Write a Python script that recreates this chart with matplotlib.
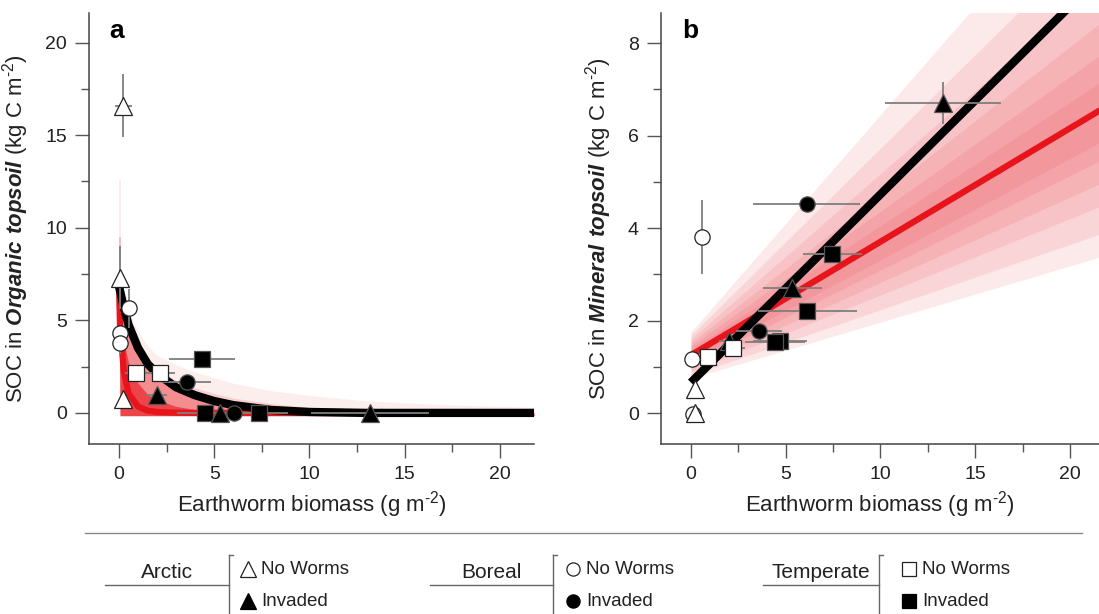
import matplotlib
matplotlib.use("Agg")
import matplotlib.pyplot as plt
from matplotlib.lines import Line2D
from matplotlib.ticker import MultipleLocator

plt.rcParams["font.family"] = ["Liberation Sans", "DejaVu Sans"]
plt.rcParams["mathtext.fontset"] = "custom"
plt.rcParams["mathtext.rm"] = "Liberation Sans"
plt.rcParams["mathtext.bfit"] = "Liberation Sans:italic:bold"

RED = "#e8141b"
ERR = "#7f7f7f"
AXC = "#444444"

# marker style per region / invasion status
kinds = {
    "arc_no": ("^", "white", 13),
    "arc_inv": ("^", "black", 13),
    "bor_no": ("o", "white", 11),
    "bor_inv": ("o", "black", 11),
    "tem_no": ("s", "white", 11),
    "tem_inv": ("s", "black", 11),
}

# ---- panel a: organic topsoil ----
a_kind = ["arc_no", "arc_no", "bor_no", "bor_no", "bor_no", "tem_no", "tem_no",
          "tem_inv", "bor_inv", "arc_no", "arc_inv", "tem_inv", "arc_inv",
          "bor_inv", "tem_inv", "arc_inv"]
a_x = [0.23, 0.05, 0.54, 0.05, 0.05, 0.89, 2.15, 4.36, 3.55, 0.19, 1.98,
       4.53, 5.30, 6.05, 7.37, 13.2]
a_y = [16.6, 7.30, 5.66, 4.34, 3.80, 2.14, 2.14, 2.90, 1.66, 0.74, 0.97,
       0.02, 0.00, 0.02, 0.02, 0.00]
a_xerr = [0.45, 0.10, 0.10, 0.05, 0.05, 0.60, 0.80, 1.75, 1.30, 0.05, 0.55,
          1.50, 0.60, 0.80, 1.50, 3.10]
a_yerr = [1.70, 1.70, 1.05, 0.20, 0.60, 0.10, 0.10, 0.10, 0.10, 0.10, 0.10,
          0.05, 0.05, 0.05, 0.05, 0.05]

# fitted curves and posterior envelopes, read on a common biomass grid
a_grid = [0, 0.05, 0.25, 0.5, 1, 1.5, 2, 3, 4, 5, 6, 8, 10, 13, 17, 21.8]
a_black = [6.8, 6.6, 5.7, 4.75, 3.5, 2.65, 2.12, 1.38, 0.95, 0.64, 0.42,
           0.16, 0.05, 0.0, 0.0, 0.0]
a_red = [6.85, 4.7, 2.25, 1.05, 0.34, 0.12, 0.05, 0.01, 0, 0, 0, 0, 0, 0, 0, 0]
a_dense_hi = [6.85, 5.6, 3.8, 2.7, 1.6, 1.0, 0.7, 0.35, 0.18, 0.1, 0.05,
              0.02, 0.01, 0, 0, 0]
a_mid_hi = [6.9, 6.7, 5.9, 5.0, 3.8, 2.95, 2.4, 1.75, 1.35, 1.05, 0.8, 0.5,
            0.3, 0.15, 0.08, 0.05]
a_outer_hi = [7.0, 6.9, 6.3, 5.5, 4.4, 3.6, 3.1, 2.6, 2.2, 1.9, 1.6, 1.2,
              0.95, 0.65, 0.45, 0.3]
a_floor = [6.8, -0.15, -0.15, -0.15, -0.15, -0.15, -0.15, -0.15, -0.15,
           -0.15, -0.15, -0.15, -0.15, -0.15, -0.15, -0.15]
a_spike_x = [0.0, 0.1]
a_spike_y = [6.8, 9.5, 12.6]

# ---- panel b: mineral topsoil ----
b_kind = ["arc_inv", "bor_no", "bor_inv", "tem_inv", "arc_inv", "tem_inv",
          "bor_inv", "tem_inv", "tem_inv", "arc_inv", "tem_no", "tem_no",
          "bor_no", "arc_no", "bor_no", "arc_no"]
b_x = [13.28, 0.56, 6.10, 7.46, 5.35, 6.14, 3.60, 4.70, 4.43, 2.00, 2.23,
       0.91, 0.07, 0.21, 0.09, 0.20]
b_y = [6.70, 3.81, 4.53, 3.43, 2.70, 2.21, 1.77, 1.56, 1.54, 1.55, 1.40,
       1.22, 1.16, 0.53, -0.02, 0.00]
b_xerr = [3.06, 0.05, 2.83, 1.55, 1.57, 2.60, 1.20, 1.40, 1.60, 0.50, 0.60,
          0.10, 0.05, 0.05, 0.05, 0.25]
b_yerr = [0.45, 0.80, 0.05, 0.05, 0.15, 0.05, 0.05, 0.05, 0.05, 0.05, 0.05,
          0.05, 0.05, 0.05, 0.05, 0.05]

# straight fits, given as y at both ends of the biomass range
b_ends = [0, 21.8]
b_black = [0.66, 9.53]
b_red = [1.25, 6.60]
# nested posterior bands: lower edge (x=0, x=21.8), upper edge (x=0, x=21.8)
b_lo0 = [0.75, 0.82, 0.90, 0.98, 1.05, 1.12]
b_lo1 = [3.4, 3.9, 4.5, 5.0, 5.5, 5.9]
b_hi0 = [1.75, 1.68, 1.60, 1.52, 1.45, 1.38]
b_hi1 = [12.0, 10.5, 9.4, 8.5, 7.8, 7.2]


def style_axes(ax, xlim, ylim, ymaj, ymin):
    ax.set_xlim(*xlim)
    ax.set_ylim(*ylim)
    for s in ["top", "right"]:
        ax.spines[s].set_visible(False)
    for s in ["left", "bottom"]:
        ax.spines[s].set_color(AXC)
        ax.spines[s].set_linewidth(1.1)
    ax.xaxis.set_major_locator(MultipleLocator(5))
    ax.xaxis.set_minor_locator(MultipleLocator(2.5))
    ax.yaxis.set_major_locator(MultipleLocator(ymaj))
    ax.yaxis.set_minor_locator(MultipleLocator(ymin))
    ax.tick_params(which="major", length=10, width=1.0, color="#555555",
                   labelsize=14, labelcolor="#222222", pad=6)
    ax.tick_params(which="minor", length=6, width=1.0, color="#555555")
    ax.set_xlabel("Earthworm biomass (g m$^{\\text{-}2}$)", fontsize=16,
                  color="#222222", labelpad=4)


def draw_points(ax, xs, ys, xe, ye, ks):
    ax.errorbar(xs, ys, xerr=xe, yerr=ye, fmt="none", ecolor=ERR,
                elinewidth=1.3, capsize=0, zorder=5)
    for x, y, k in zip(xs, ys, ks):
        m, fc, ms = kinds[k]
        ec = "#222222" if fc == "white" else "#555555"
        ax.plot(x, y, marker=m, ms=ms, mfc=fc, mec=ec, mew=0.9,
                ls="none", zorder=6, clip_on=False)


fig = plt.figure(figsize=(10.99, 6.14), dpi=100)
ax_a = fig.add_axes([89 / 1099, 170 / 614, 445 / 1099, 431 / 614])
ax_b = fig.add_axes([661 / 1099, 170 / 614, 438 / 1099, 431 / 614])

# panel a
ax_a.fill_betweenx(a_spike_y[:3:2], a_spike_x[0], a_spike_x[1],
                   color=RED, alpha=0.08, lw=0)
ax_a.fill_betweenx(a_spike_y[:2], a_spike_x[0], a_spike_x[1],
                   color=RED, alpha=0.2, lw=0)
ax_a.fill_between(a_grid, a_floor, a_outer_hi, color=RED, alpha=0.07, lw=0)
ax_a.fill_between(a_grid, a_floor, a_mid_hi, color=RED, alpha=0.14, lw=0)
ax_a.fill_between(a_grid, a_floor, a_black, color=RED, alpha=0.35, lw=0)
ax_a.fill_between(a_grid, a_floor, a_dense_hi, color=RED, alpha=0.6, lw=0)
ax_a.plot(a_grid, a_red, color=RED, lw=4.5, solid_capstyle="butt", zorder=3)
ax_a.plot(a_grid, a_black, color="black", lw=6, solid_capstyle="butt",
          zorder=4)
draw_points(ax_a, a_x, a_y, a_xerr, a_yerr, a_kind)
style_axes(ax_a, (-1.58, 21.8), (-1.68, 21.6), 5, 2.5)
ax_a.set_ylabel("SOC in $\\mathbfit{Organic\\ topsoil}$ (kg C m$^{\\text{-}2}$)",
                fontsize=16, color="#222222", labelpad=10)
ax_a.text(0.045, 0.985, "a", transform=ax_a.transAxes, fontsize=19,
          fontweight="bold", va="top", ha="left")

# panel b
for lo0, lo1, hi0, hi1 in zip(b_lo0, b_lo1, b_hi0, b_hi1):
    ax_b.fill_between(b_ends, [lo0, lo1], [hi0, hi1], color=RED, alpha=0.09,
                      lw=0)
ax_b.plot(b_ends, b_red, color=RED, lw=4.5, solid_capstyle="butt", zorder=3)
ax_b.plot(b_ends, b_black, color="black", lw=6, solid_capstyle="butt",
          zorder=4)
draw_points(ax_b, b_x, b_y, b_xerr, b_yerr, b_kind)
style_axes(ax_b, (-1.58, 21.53), (-0.67, 8.65), 2, 1)
ax_b.set_ylabel("SOC in $\\mathbfit{Mineral\\ topsoil}$ (kg C m$^{\\text{-}2}$)",
                fontsize=16, color="#222222", labelpad=10)
ax_b.text(0.048, 0.985, "b", transform=ax_b.transAxes, fontsize=19,
          fontweight="bold", va="top", ha="left")

# separator and legend blocks (figure pixel coords)
W, H = 1099, 614


def fx(px):
    return px / W


def fy(py):
    return 1 - py / H


fig.add_artist(Line2D([fx(85), fx(1082)], [fy(533), fy(533)],
                      color="#888888", lw=1.0))

legend_groups = [
    ("Arctic", 105, 228, "^", 248),
    ("Boreal", 430, 552, "o", 573),
    ("Temperate", 763, 878, "s", 909),
]
for name, x0, x1, mk, mx in legend_groups:
    fig.add_artist(Line2D([fx(x0), fx(x1 + 1)], [fy(585), fy(585)],
                          color="#666666", lw=1.0))
    fig.add_artist(Line2D([fx(x1 + 1), fx(x1 + 1)], [fy(555), fy(614)],
                          color="#666666", lw=1.0))
    fig.add_artist(Line2D([fx(x1 + 1), fx(x1 + 5)], [fy(555), fy(555)],
                          color="#666666", lw=1.0))
    fig.text(fx((x0 + x1) / 2), fy(572), name, ha="center", va="center",
             fontsize=15, color="#222222")
    ms = 11 if mk == "^" else 9.5
    fig.add_artist(Line2D([fx(mx)], [fy(569)], marker=mk, ms=ms, mfc="white",
                          mec="#222222", mew=0.9, ls="none"))
    fig.add_artist(Line2D([fx(mx)], [fy(601)], marker=mk, ms=ms, mfc="black",
                          mec="black", mew=0.9, ls="none"))
    fig.text(fx(mx + 13), fy(569), "No Worms", ha="left", va="center",
             fontsize=13.5, color="#222222")
    fig.text(fx(mx + 13), fy(601), "Invaded", ha="left", va="center",
             fontsize=13.5, color="#222222")

fig.savefig("out.png", dpi=100)
